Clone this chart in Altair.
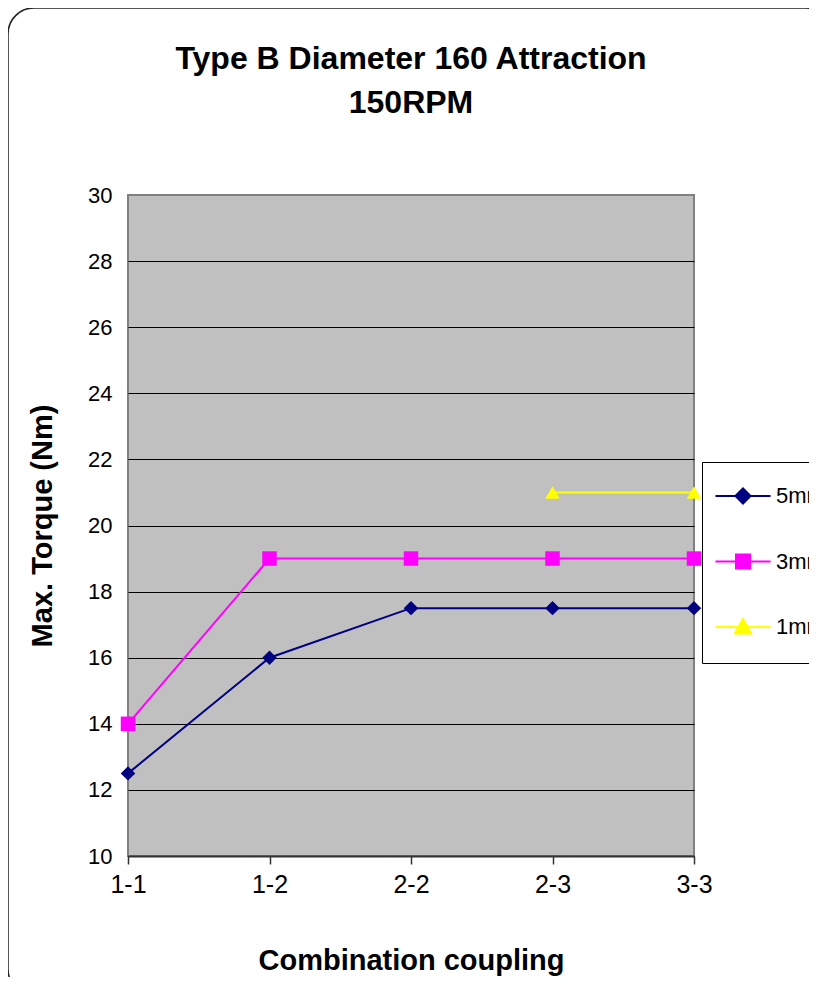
import altair as alt
import pandas as pd

categories = ["1-1", "1-2", "2-2", "2-3", "3-3"]
series_names = ["5mm", "3mm", "1mm"]
values_5mm = [12.5, 16, 17.5, 17.5, 17.5]
values_3mm = [14, 19, 19, 19, 19]
values_1mm = [None, None, None, 21, 21]
colors = ["#000080", "#FF00FF", "#FFFF00"]
shapes = ["diamond", "square", "triangle-up"]

legend_shapes = [
    "M-1.02,0H1.02M-0.28,0L0,-0.28L0.28,0L0,0.28Z",
    "M-1.02,0H1.02M-0.26,-0.26H0.26V0.26H-0.26Z",
    "M-1.02,0H1.02M0,-0.3L0.3,0.24H-0.3Z",
]

rows = []
for name, vals in zip(series_names, [values_5mm, values_3mm, values_1mm]):
    for c, v in zip(categories, vals):
        if v is not None:
            rows.append({"coupling": c, "torque": v, "series": name})
df = pd.DataFrame(rows)

FONT = "Liberation Sans"

x_enc = alt.X(
    "coupling:N",
    sort=categories,
    scale=alt.Scale(type="point", padding=0, domain=categories),
    axis=alt.Axis(
        title="Combination coupling",
        labelAngle=0,
        labelFontSize=25,
        labelFont=FONT,
        labelColor="#000",
        labelPadding=8,
        tickSize=8,
        tickColor="#333",
        tickWidth=1.5,
        domainColor="#333",
        domainWidth=2,
        titleFontSize=29,
        titleFont=FONT,
        titleFontWeight="bold",
        titleColor="#000",
        titlePadding=49,
        grid=False,
    ),
)
y_enc = alt.Y(
    "torque:Q",
    scale=alt.Scale(domain=[10, 30], nice=False, zero=False),
    axis=alt.Axis(
        title="Max. Torque (Nm)",
        values=list(range(10, 31, 2)),
        labelFontSize=22,
        labelFont=FONT,
        labelColor="#000",
        labelPadding=16,
        ticks=False,
        domain=False,
        grid=True,
        gridColor={"condition": {"test": "datum.value == 30", "value": "#808080"}, "value": "#000"},
        gridWidth=1,
        gridOpacity=1,
        titleFontSize=29,
        titleFont=FONT,
        titleFontWeight="bold",
        titleColor="#000",
        titlePadding=30,
    ),
)

color_scale = alt.Scale(domain=series_names, range=colors)

lines = alt.Chart(df).mark_line(strokeWidth=2).encode(
    x=x_enc,
    y=y_enc,
    color=alt.Color("series:N", scale=color_scale, legend=None),
    detail="series:N",
)

points = alt.Chart(df).mark_point(filled=True, size=210, opacity=1).encode(
    x=x_enc,
    y=y_enc,
    color=alt.Color("series:N", scale=color_scale, legend=None),
    shape=alt.Shape("series:N", scale=alt.Scale(domain=series_names, range=shapes), legend=None),
)

legend_layer = alt.Chart(df).mark_point(filled=True, opacity=0, size=10).encode(
    x=x_enc,
    y=y_enc,
    color=alt.Color(
        "series:N",
        scale=color_scale,
        legend=alt.Legend(
            title=" ",
            titleOrient="bottom",
            titleFontSize=5,
            titlePadding=14,
            orient="none",
            legendX=574,
            legendY=267,
            strokeColor="#000",
            fillColor="#fff",
            padding=6,
            symbolSize=2916,
            symbolStrokeWidth=2,
            symbolOpacity=1,
            symbolOffset=7,
            rowPadding=25.5,
            labelFontSize=22,
            labelFont=FONT,
            labelColor="#000",
            labelOffset=5,
        ),
    ),
    stroke=alt.Stroke("series:N", scale=color_scale, legend=None),
    shape=alt.Shape("series:N", scale=alt.Scale(domain=series_names, range=legend_shapes), legend=None),
)

frame = alt.Chart(pd.DataFrame({"a": [0]})).mark_rect(
    filled=False, stroke="#222", strokeWidth=1.5, cornerRadius=26, fillOpacity=0
).encode(
    x=alt.value(-120), x2=alt.value(704), y=alt.value(-187), y2=alt.value(800)
)

chart = alt.layer(frame, lines, points, legend_layer).resolve_scale(
    color="independent", shape="independent", stroke="independent"
).properties(
    width=566,
    height=661,
    autosize=alt.AutoSizeParams(type="none"),
    padding={"left": 120, "top": 187, "right": 115, "bottom": 121},
    title=alt.Title(
        ["Type B Diameter 160 Attraction", "150RPM"],
        fontSize=32,
        font=FONT,
        fontWeight="bold",
        color="#000",
        anchor="middle",
        frame="group",
        offset=-113,
        lineHeight=44,
    ),
).configure_view(
    fill="#C0C0C0", stroke="#808080", strokeWidth=2
)

chart.save("out.html", embed_options={"renderer": "svg", "actions": False})
